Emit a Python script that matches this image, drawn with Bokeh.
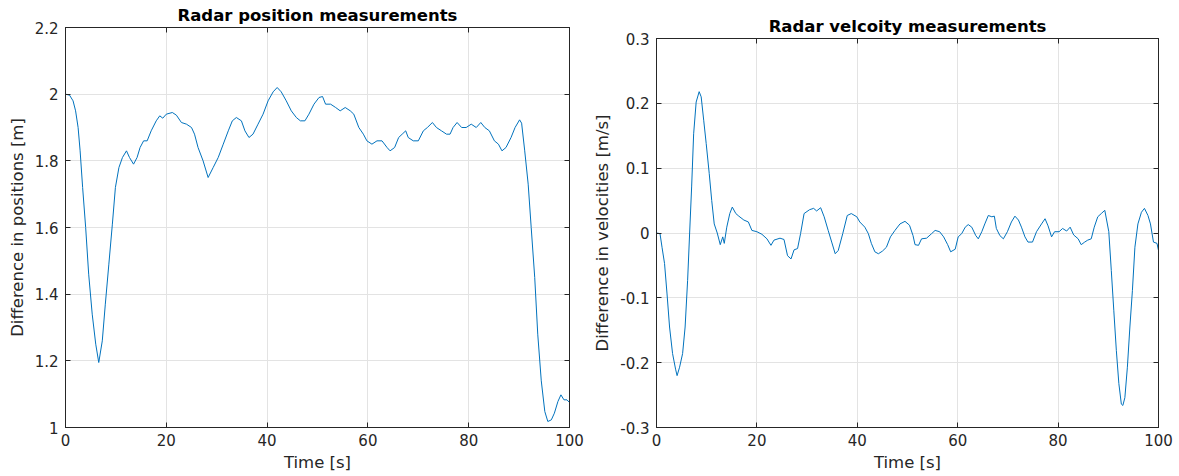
from bokeh.plotting import figure
from bokeh.layouts import row, column
from bokeh.models import LinearAxis, FixedTicker, CustomJSTickFormatter, Range1d
from bokeh.embed import file_html
from bokeh.resources import INLINE

# ---------------- data ----------------
t_pos = [0, 0.8, 1.5, 2, 2.5, 2.9, 3.4, 4.0, 4.6, 5.3, 6.0, 6.6, 7.3, 7.9, 8.6, 9.3, 9.9,
         10.6, 11.3, 12.1, 12.7, 13.5, 14.2, 14.8, 15.5, 16.2, 17.0, 18.0, 18.7, 19.3, 20,
         21.2, 22, 23, 24, 25, 25.6, 26.3, 27.3, 28.3, 29.3, 30.3, 31.3, 32.3, 33.1, 33.9,
         34.9, 35.6, 36.4, 37.2, 38.2, 39.2, 40.2, 41.2, 42.0, 42.8, 43.8, 44.8, 45.8, 46.6,
         47.5, 48.3, 49.3, 50.3, 51, 51.6, 52.6, 53.6, 54.5, 55.5, 56.5, 57.2, 58.2, 59.1,
         59.8, 60.8, 61.8, 62.8, 63.8, 64.4, 65.3, 66.1, 66.8, 67.5, 68.0, 69.0, 70.0, 71.0,
         71.8, 72.8, 73.6, 74.6, 75.6, 76.3, 76.9, 77.7, 78.6, 79.5, 80.5, 81.5, 82.4, 83.2,
         84.1, 85.1, 85.9, 86.6, 87.4, 88.4, 89.2, 90.1, 90.5, 91.1, 91.8, 92.4, 93.1, 93.7,
         94.4, 95.1, 95.7, 96.4, 97.0, 97.7, 98.3, 98.9, 99.5, 100]
pos_diff = [2.0, 1.997, 1.98, 1.95, 1.90, 1.83, 1.72, 1.60, 1.46, 1.34, 1.25, 1.195, 1.26,
            1.37, 1.49, 1.61, 1.72, 1.78, 1.81, 1.83, 1.81, 1.79, 1.81, 1.84, 1.86, 1.86,
            1.89, 1.92, 1.935, 1.928, 1.94, 1.945, 1.937, 1.915, 1.91, 1.90, 1.88, 1.84,
            1.80, 1.75, 1.78, 1.81, 1.85, 1.89, 1.92, 1.93, 1.92, 1.89, 1.87, 1.88, 1.91,
            1.94, 1.98, 2.007, 2.02, 2.007, 1.98, 1.95, 1.93, 1.92, 1.92, 1.94, 1.97, 1.99,
            1.993, 1.97, 1.97, 1.96, 1.95, 1.96, 1.95, 1.94, 1.90, 1.88, 1.86, 1.85, 1.86,
            1.86, 1.84, 1.83, 1.84, 1.87, 1.88, 1.89, 1.87, 1.86, 1.86, 1.89, 1.90, 1.915,
            1.90, 1.89, 1.88, 1.88, 1.90, 1.915, 1.90, 1.90, 1.91, 1.90, 1.915, 1.90, 1.89,
            1.86, 1.85, 1.83, 1.84, 1.87, 1.90, 1.923, 1.913, 1.832, 1.73, 1.60, 1.45, 1.28,
            1.14, 1.048, 1.018, 1.023, 1.043, 1.078, 1.098, 1.083, 1.083, 1.075]

t_vel = [0, 0.7, 1.1, 1.6, 2.1, 2.6, 3.2, 3.8, 4.1, 4.6, 5.2, 5.7, 6.2, 6.6, 7.0, 7.4, 7.9,
         8.5, 8.9, 9.4, 9.9, 10.5, 11.0, 11.5, 12.1, 12.7, 13.2, 13.5, 14.0, 14.6, 15.1,
         15.8, 16.4, 17.4, 18.3, 19.0, 20.0, 21.0, 22.0, 22.8, 23.4, 24.6, 25.4, 26.1, 26.8,
         27.4, 28.1, 28.7, 29.4, 30.5, 31.3, 31.9, 32.7, 33.4, 34.2, 34.9, 35.6, 36.2, 37.1,
         38.0, 38.8, 39.9, 40.5, 41.5, 42.2, 42.8, 43.5, 44.2, 45.0, 45.8, 46.6, 47.5, 48.5,
         49.5, 50.4, 51.1, 51.5, 52.2, 52.8, 53.8, 54.8, 55.5, 56.4, 57.2, 58.0, 58.6, 59.5,
         60.1, 60.8, 61.5, 62.1, 62.8, 63.6, 64.1, 64.8, 65.4, 66.1, 66.8, 67.3, 67.7, 68.4,
         69.1, 69.9, 70.7, 71.4, 72.1, 72.7, 73.4, 74.0, 74.9, 75.7, 76.7, 77.4, 78.0, 78.7,
         79.3, 80.2, 80.9, 81.7, 82.4, 83.1, 84.0, 84.6, 85.3, 85.9, 86.6, 87.2, 87.9, 88.6,
         89.3, 90.1, 90.6, 91.1, 91.6, 92.1, 92.6, 92.9, 93.3, 93.8, 94.3, 94.8, 95.3, 95.9,
         96.6, 97.2, 97.9, 98.4, 99.0, 99.7, 100]
vel_diff = [0, -0.001, -0.022, -0.047, -0.094, -0.145, -0.186, -0.21, -0.22, -0.207, -0.186,
            -0.145, -0.073, 0, 0.071, 0.153, 0.202, 0.218, 0.21, 0.174, 0.138, 0.092, 0.05,
            0.014, 0, -0.018, -0.006, -0.016, 0.009, 0.03, 0.04, 0.03, 0.026, 0.02, 0.017,
            0.004, 0.002, -0.002, -0.009, -0.019, -0.011, -0.008, -0.01, -0.035, -0.04,
            -0.026, -0.024, -0.001, 0.03, 0.036, 0.038, 0.034, 0.039, 0.025, 0.004, -0.014,
            -0.032, -0.027, -0.001, 0.027, 0.030, 0.025, 0.017, 0.009, -0.001, -0.016,
            -0.029, -0.032, -0.028, -0.022, -0.006, 0.004, 0.014, 0.018, 0.012, -0.004,
            -0.018, -0.019, -0.009, -0.008, -0.001, 0.004, 0.002, -0.006, -0.018, -0.029,
            -0.025, -0.006, -0.001, 0.009, 0.013, 0.009, -0.004, -0.009, 0.002, 0.014, 0.027,
            0.025, 0.026, 0.007, -0.004, -0.009, 0.002, 0.017, 0.026, 0.02, 0.009, -0.006,
            -0.014, -0.014, 0.002, 0.014, 0.022, 0.011, -0.006, 0.002, 0.002, 0.007, 0.003,
            0.009, -0.003, -0.009, -0.018, -0.014, -0.011, -0.009, 0.009, 0.025, 0.030,
            0.035, 0.002, -0.058, -0.12, -0.181, -0.232, -0.264, -0.266, -0.254, -0.207,
            -0.145, -0.089, -0.022, 0.014, 0.032, 0.038, 0.027, 0.014, -0.014, -0.016, -0.027]

x_ticks = [0, 20, 40, 60, 80, 100]
pos_ticks = [1.0, 1.2, 1.4, 1.6, 1.8, 2.0, 2.2]
vel_ticks = [-0.3, -0.2, -0.1, 0.0, 0.1, 0.2, 0.3]

FONT = "DejaVu Sans"
AX = "#262626"
LINE = "#0072BD"
GRID = "#e3e3e3"

fmt_code = """
if (Math.abs(tick) < 1e-9) { return '0'; }
return tick.toFixed(1).replace(/\\.0$/, '');
"""


def style_axis(ax, ticker, show_labels=True):
    ax.ticker = FixedTicker(ticks=ticker)
    ax.major_tick_in = 5
    ax.major_tick_out = 0
    ax.minor_tick_in = 0
    ax.minor_tick_out = 0
    ax.axis_line_color = AX
    ax.major_tick_line_color = AX
    ax.major_label_text_font = FONT
    ax.major_label_text_font_size = "15px"
    ax.major_label_text_color = AX
    ax.axis_label_text_font = FONT
    ax.axis_label_text_font_size = "16.5px"
    ax.axis_label_text_font_style = "normal"
    ax.axis_label_text_color = AX
    if not show_labels:
        ax.formatter = CustomJSTickFormatter(code="return '';")
        ax.major_label_text_font_size = "0px"
        ax.major_label_standoff = 0


def make_fig(t, y, yr, yticks, title, ylabel, top, width):
    p = figure(width=width, height=476, x_range=Range1d(0, 100), y_range=Range1d(*yr),
               output_backend="svg", toolbar_location=None, title=None,
               min_border_left=65, min_border_right=21, min_border_top=top,
               min_border_bottom=49)
    p.background_fill_color = "white"
    p.border_fill_color = "white"
    p.outline_line_color = AX
    p.outline_line_width = 1

    style_axis(p.xaxis[0], x_ticks)
    style_axis(p.yaxis[0], yticks)
    p.xaxis[0].axis_label = "Time [s]"
    p.xaxis[0].major_label_standoff = 6
    p.xaxis[0].axis_label_standoff = 4
    p.yaxis[0].axis_label = ylabel
    p.yaxis[0].formatter = CustomJSTickFormatter(code=fmt_code)
    p.yaxis[0].major_label_standoff = 7
    p.yaxis[0].axis_label_standoff = 5

    # top box edge with inward ticks; carries the chart title as its label
    top_ax = LinearAxis()
    style_axis(top_ax, x_ticks, show_labels=False)
    top_ax.axis_label = title
    top_ax.axis_label_text_font_style = "bold"
    top_ax.axis_label_text_color = "black"
    top_ax.axis_label_standoff = 3
    p.add_layout(top_ax, "above")

    right_ax = LinearAxis()
    style_axis(right_ax, yticks, show_labels=False)
    p.add_layout(right_ax, "right")

    p.xgrid.ticker = FixedTicker(ticks=x_ticks)
    p.ygrid.ticker = FixedTicker(ticks=yticks)
    p.xgrid.grid_line_color = GRID
    p.ygrid.grid_line_color = GRID

    p.line(t, y, line_color=LINE, line_width=1)
    return p


p1 = make_fig(t_pos, pos_diff, (1.0, 2.2), pos_ticks, "Radar position measurements",
              "Difference in positions [m]", 27, 590)
p2 = make_fig(t_vel, vel_diff, (-0.3, 0.3), vel_ticks, "Radar velcoity measurements",
              "Difference in velocities [m/s]", 38, 589)

layout = row(column(p1), column(p2))
open("out.html", "w").write(file_html(layout, INLINE))
